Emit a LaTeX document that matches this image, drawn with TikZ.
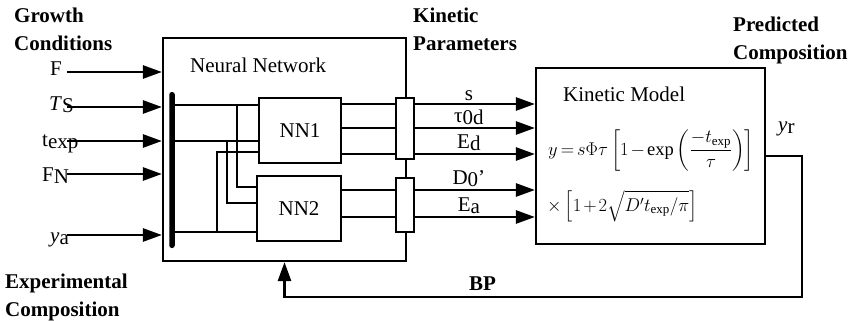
\documentclass[tikz,border=0pt]{standalone}
\usepackage{fix-cm}
\usepackage{amsmath}
\usepackage{fontspec}
\setmainfont{Liberation Serif}
\usetikzlibrary{arrows.meta, positioning}

\begin{document}
\begin{tikzpicture}[
    x=1pt, y=-1pt,
    font=\fontsize{21}{27.5}\selectfont,
    block/.style={rectangle, draw=black, line width=2.2pt, inner sep=0pt},
    subnet/.style={rectangle, draw=black, line width=1.8pt, inner sep=0pt, minimum height=65pt},
    packer/.style={rectangle, draw=black, fill=white, line width=1.8pt, minimum width=18pt, inner sep=0pt},
    wire/.style={line width=1.7pt},
    arrow/.style={line width=2.7pt, -{Triangle[length=19pt,width=13pt]}},
    heading/.style={font=\fontsize{21}{27.5}\selectfont\bfseries, align=left, inner sep=0pt, anchor=north west},
    lbl/.style={inner sep=0pt, anchor=base west},
    formula/.style={lbl, font={\fontsize{18.5}{23}\selectfont\medmuskip=2mu\relax\thickmuskip=3mu\relax}},
    plabel/.style={above, pos=0.45, inner sep=1.5pt}
]
\useasboundingbox (0,0) rectangle (851,321);

% Blocks
\node (nn) [block, minimum width=243pt, minimum height=223pt] at (284.5,149.5) {};
\node (nntitle) [lbl] at (190,73) {Neural Network};
\node (bus) [fill=black, rounded corners=2.5pt, minimum width=5.5pt, minimum height=156pt, inner sep=0pt] at (172,170) {};
\node (nn1) [subnet, minimum width=82pt] at (300,130.5) {NN1};
\node (nn2) [subnet, minimum width=84pt] at (299,208.5) {NN2};
\node (pb1) [packer, minimum height=61pt] at (405,128.5) {};
\node (pb2) [packer, minimum height=54pt] at (405,205) {};
\node (km) [block, minimum width=229pt, minimum height=176pt] at (650.5,156) {};
\node (kmtitle) [lbl] at (563,101) {Kinetic Model};
\node (eq1) [formula] at (548,155) {$y = s\Phi\tau\left[1-\exp\left(\dfrac{-t_{\mathrm{exp}}}{\tau}\right)\right]$};
\node (eq2) [formula] at (547,211) {$\times\left[1+2\sqrt{D' t_{\mathrm{exp}}/\pi}\right]$};

% Headings
\node (growth) [heading] at (14,8) {Growth\\Conditions};
\node (expcomp) [heading] at (5,274) {Experimental\\Composition};
\node (kinpar) [heading] at (413,8) {Kinetic\\Parameters};
\node (predcomp) [heading] at (733,17) {Predicted\\Composition};

% Inputs
\coordinate (iF) at (67,72);
\coordinate (iT) at (67,107);
\coordinate (iX) at (67,141);
\coordinate (iN) at (67,174);
\coordinate (iY) at (67,235);
\node (lF) [lbl] at (50,76) {F};
\node (lT) [lbl] at (49,110) {\textit{T}\raisebox{-0.3ex}{S}};
\node (lX) [lbl] at (42,146) {t\raisebox{-0.3ex}{exp}};
\node (lN) [lbl] at (42,181) {F\raisebox{-0.3ex}{N}};
\node (lY) [lbl] at (50,242) {\textit{y}\raisebox{-0.3ex}{a}};
\draw [arrow] (iF) -- (iF -| nn.west);
\draw [arrow] (iT) -- (iT -| nn.west);
\draw [arrow] (iX) -- (iX -| nn.west);
\draw [arrow] (iN) -- (iN -| nn.west);
\draw [arrow] (iY) -- (iY -| nn.west);

% Wires inside the network
\coordinate (j1) at (237,105);
\coordinate (j2) at (227,141);
\coordinate (j3) at (217,232);
\coordinate (k1) at (0,187);
\coordinate (k2) at (0,203);
\coordinate (k3) at (0,152);
\draw [wire] (bus.east |- j1) -- (nn1.west |- j1);
\draw [wire] (bus.east |- j2) -- (nn1.west |- j2);
\draw [wire] (bus.east |- j3) -- (nn2.west |- j3);
\draw [wire] (j1) |- (nn2.west |- k1);
\draw [wire] (j2) |- (nn2.west |- k2);
\draw [wire] (j3) |- (nn1.west |- k3);

% Outputs to the kinetic model
\coordinate (r1) at (0,104);
\coordinate (r2) at (0,128);
\coordinate (r3) at (0,154);
\coordinate (r4) at (0,190);
\coordinate (r5) at (0,217);
\draw [wire] (nn1.east |- r1) -- (pb1.west |- r1);
\draw [wire] (nn1.east |- r2) -- (pb1.west |- r2);
\draw [wire] (nn1.east |- r3) -- (pb1.west |- r3);
\draw [wire] (nn2.east |- r4) -- (pb2.west |- r4);
\draw [wire] (nn2.east |- r5) -- (pb2.west |- r5);
\draw [arrow] (pb1.east |- r1) -- node[plabel] {s} (km.west |- r1);
\draw [arrow] (pb1.east |- r2) -- node[plabel] {τ\raisebox{-0.25ex}{0d}} (km.west |- r2);
\draw [arrow] (pb1.east |- r3) -- node[plabel] {E\raisebox{-0.3ex}{d}} (km.west |- r3);
\draw [arrow] (pb2.east |- r4) -- node[plabel] {D\raisebox{-0.3ex}{0}'} (km.west |- r4);
\draw [arrow] (pb2.east |- r5) -- node[plabel] {E\raisebox{-0.3ex}{a}} (km.west |- r5);

% Feedback
\coordinate (fb) at (802,297);
\node (yr) [lbl] at (778,131) {\textit{y}\raisebox{-0.3ex}{r}};
\node (bp) [lbl, font=\fontsize{21}{27.5}\selectfont\bfseries] at (469,290) {BP};
\draw [arrow] (km.east) -| (fb) -| (nn.south);

\end{tikzpicture}
\end{document}
